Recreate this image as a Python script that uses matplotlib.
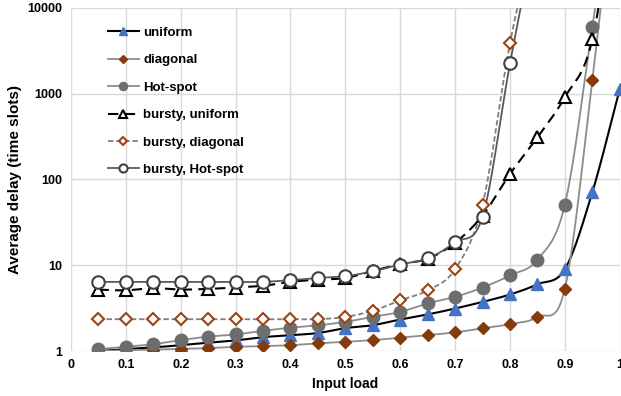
import numpy as np
import matplotlib
matplotlib.use("Agg")
import matplotlib.pyplot as plt

plt.rcParams['font.family'] = ['Liberation Sans', 'DejaVu Sans']
plt.rcParams['font.weight'] = 'bold'

load = [0.05, 0.1, 0.15, 0.2, 0.25, 0.3, 0.35, 0.4, 0.45, 0.5,
        0.55, 0.6, 0.65, 0.7, 0.75, 0.8, 0.85, 0.9, 0.95, 1.0]

uniform = [1.0, 1.05, 1.1, 1.17, 1.25, 1.33, 1.45, 1.53, 1.62, 1.85,
           2.0, 2.33, 2.67, 3.13, 3.74, 4.56, 6.0, 9.0, 71, 1130]
diagonal = [1.0, 1.02, 1.04, 1.06, 1.08, 1.12, 1.14, 1.17, 1.23, 1.28,
            1.34, 1.43, 1.53, 1.65, 1.84, 2.06, 2.5, 5.35, 1450, 1.0e6]
hotspot = [1.05, 1.12, 1.2, 1.34, 1.47, 1.56, 1.72, 1.87, 1.99, 2.19,
           2.5, 2.86, 3.6, 4.27, 5.5, 7.6, 11.6, 51, 6000, 1.0e6]
b_uniform = [5.2, 5.1, 5.4, 5.2, 5.3, 5.5, 5.75, 6.4, 6.8, 7.1,
             8.6, 10.3, 11.9, 18.3, 38, 116, 310, 910, 4300, 5.0e5]
b_diagonal = [2.35, 2.35, 2.35, 2.35, 2.35, 2.35, 2.35, 2.35, 2.35, 2.5,
              2.94, 3.9, 5.1, 9.0, 51, 3900, 1.0e5]
b_hotspot = [6.4, 6.4, 6.4, 6.4, 6.4, 6.4, 6.4, 6.7, 7.1, 7.45,
             8.5, 10.2, 12.0, 18.6, 37, 2250, 1.0e5]

labels = ["uniform", "diagonal", "Hot-spot",
          "bursty, uniform", "bursty, diagonal", "bursty, Hot-spot"]


def smooth(x, y, n=30):
    """Catmull-Rom spline through points in (x, log10 y) space."""
    x = np.asarray(x, float)
    ly = np.log10(np.asarray(y, float))
    px = np.concatenate([[2 * x[0] - x[1]], x, [2 * x[-1] - x[-2]]])
    py = np.concatenate([[2 * ly[0] - ly[1]], ly, [2 * ly[-1] - ly[-2]]])
    xs, ys = [], []
    t = np.linspace(0, 1, n)
    for i in range(1, len(px) - 2):
        for p, out in ((px, xs), (py, ys)):
            p0, p1, p2, p3 = p[i - 1], p[i], p[i + 1], p[i + 2]
            out.append(0.5 * ((2 * p1) + (-p0 + p2) * t
                              + (2 * p0 - 5 * p1 + 4 * p2 - p3) * t ** 2
                              + (-p0 + 3 * p1 - 3 * p2 + p3) * t ** 3))
    return np.concatenate(xs), 10 ** np.concatenate(ys)


fig = plt.figure(figsize=(6.21, 3.96), dpi=100)
ax = fig.add_axes([0.1143, 0.1136, 0.8837, 0.8664])

series = [
    (uniform, dict(color='black', ls='-', lw=1.5),
     dict(marker='^', mfc='#4472C4', mec='#4472C4', ms=8)),
    (diagonal, dict(color='#8c8c8c', ls='-', lw=1.3),
     dict(marker='D', mfc='#843C0C', mec='#843C0C', ms=6.5)),
    (hotspot, dict(color='#8c8c8c', ls='-', lw=1.3),
     dict(marker='o', mfc='#6d6d6d', mec='#6d6d6d', ms=9)),
    (b_uniform, dict(color='black', ls=(0, (5, 3)), lw=1.5),
     dict(marker='^', mfc='white', mec='black', mew=1.5, ms=8)),
    (b_diagonal, dict(color='#7f7f7f', ls=(0, (3, 1.5)), lw=1.3),
     dict(marker='D', mfc='white', mec='#9a4510', mew=1.5, ms=6.5)),
    (b_hotspot, dict(color='#595959', ls='-', lw=1.3),
     dict(marker='o', mfc='white', mec='#404040', mew=1.5, ms=9)),
]

handles = []
for (vals, lst, mst), lab in zip(series, labels):
    xv = load[:len(vals)]
    sx, sy = smooth(xv, vals)
    ax.plot(sx, sy, zorder=2, **lst)
    ax.plot(xv, vals, ls='none', zorder=3, **mst)
    h, = ax.plot([], [], label=lab, **lst, **mst)
    handles.append(h)

ax.set_yscale('log')
ax.set_xlim(0, 1.0)
ax.set_ylim(1, 10000)
ax.set_xticks(np.arange(0, 1.01, 0.1))
ax.set_xticklabels(['0', '0.1', '0.2', '0.3', '0.4', '0.5', '0.6', '0.7', '0.8', '0.9', '1'])
ax.set_yticks([1, 10, 100, 1000, 10000])
ax.set_yticklabels(['1', '10', '100', '1000', '10000'])
ax.minorticks_off()
ax.tick_params(axis='both', length=0, labelsize=9, pad=6)
for lab in ax.get_xticklabels() + ax.get_yticklabels():
    lab.set_fontweight('bold')
ax.grid(True, color='#d9d9d9', lw=1)
ax.set_axisbelow(True)
for s in ax.spines.values():
    s.set_visible(False)

ax.set_xlabel('Input load', fontsize=10, fontweight='bold', labelpad=4)
ax.set_ylabel('Average delay (time slots)', fontsize=11, fontweight='bold', labelpad=4)

leg = ax.legend(handles=handles, loc='upper left', bbox_to_anchor=(0.045, 0.98),
                frameon=False, fontsize=9.5, labelspacing=1.15, handlelength=2.4,
                handletextpad=0.3, numpoints=1, markerscale=0.65)
for t in leg.get_texts():
    t.set_fontweight('bold')

fig.savefig('out.png', dpi=100)
